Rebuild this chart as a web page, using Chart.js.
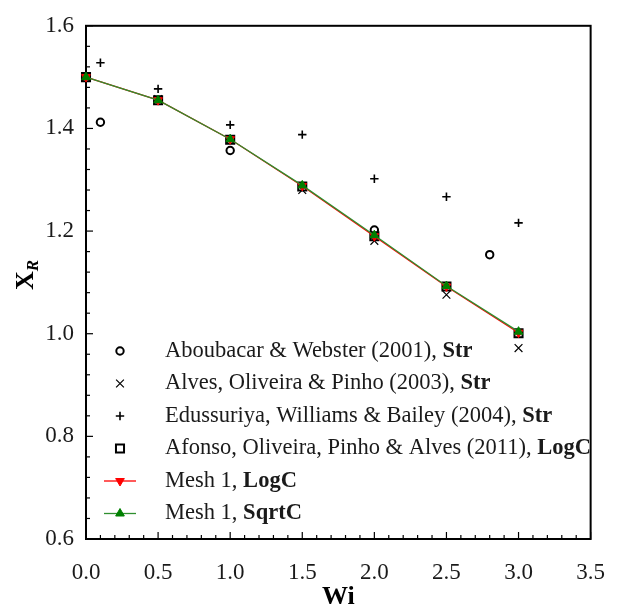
<!DOCTYPE html>
<html lang="en">
<head>
    <meta charset="UTF-8">
    <title>X_R vs Wi</title>
    <script src="https://cdn.jsdelivr.net/npm/chart.js"></script>
    <style>
        body { margin: 0; background: #fff; }
        #wrap { width: 625px; height: 612px; }
    </style>
</head>
<body>
    <div id="wrap"><canvas id="xrChart" width="625" height="612"></canvas></div>

    <script>
        // Wi values shared by the simulations / Afonso / Alves
        const wiMesh = [0.0, 0.5, 1.0, 1.5, 2.0, 2.5, 3.0];
        const meshLogC  = [1.500, 1.455, 1.379, 1.288, 1.190, 1.092, 1.002];
        const meshSqrtC = [1.500, 1.455, 1.379, 1.289, 1.192, 1.093, 1.004];
        const afonsoLogC = [1.500, 1.455, 1.378, 1.287, 1.190, 1.092, 1.001];
        const alvesStr   = [1.500, 1.457, 1.378, 1.280, 1.181, 1.076, 0.972];

        const edusWi  = [0.1, 0.5, 1.0, 1.5, 2.0, 2.5, 3.0];
        const edusStr = [1.528, 1.477, 1.407, 1.388, 1.302, 1.267, 1.216];

        const aboubWi  = [0.1, 1.0, 2.0, 2.8];
        const aboubStr = [1.412, 1.357, 1.202, 1.154];

        const xTicks = [0.0, 0.5, 1.0, 1.5, 2.0, 2.5, 3.0, 3.5];
        const yTicks = [0.6, 0.8, 1.0, 1.2, 1.4, 1.6];
        const xMinorStep = 0.1;
        const yMinorStep = 0.04;

        const FONT = 'Liberation Serif';

        const series = [
            { text: ['Aboubacar & Webster (2001), ', 'Str'], xs: aboubWi, ys: aboubStr,
              style: 'circle', r: 3.7, color: '#000', fill: 'rgba(0,0,0,0)', bw: 2, order: 5 },
            { text: ['Alves, Oliveira & Pinho (2003), ', 'Str'], xs: wiMesh, ys: alvesStr,
              style: 'crossRot', r: 5.5, color: '#000', fill: 'rgba(0,0,0,0)', bw: 1.2, order: 4 },
            { text: ['Edussuriya, Williams & Bailey (2004), ', 'Str'], xs: edusWi, ys: edusStr,
              style: 'cross', r: 4.2, color: '#000', fill: 'rgba(0,0,0,0)', bw: 1.6, order: 3 },
            { text: ['Afonso, Oliveira, Pinho & Alves (2011), ', 'LogC'], xs: wiMesh, ys: afonsoLogC,
              style: 'rect', r: 5.7, color: '#000', fill: 'rgba(0,0,0,0)', bw: 2, order: 2 },
            { text: ['Mesh 1, ', 'LogC'], xs: wiMesh, ys: meshLogC, line: '#ff0000',
              style: 'triangle', rot: 180, r: 5, color: '#ff0000', fill: '#ff0000', bw: 1, order: 1 },
            { text: ['Mesh 1, ', 'SqrtC'], xs: wiMesh, ys: meshSqrtC, line: '#2f8f2f',
              style: 'triangle', rot: 0, r: 5, color: '#008000', fill: '#008000', bw: 1, order: 0 }
        ];

        const datasets = series.map(s => ({
            label: s.text.join(''),
            data: s.xs.map((x, i) => ({ x: x, y: s.ys[i] })),
            showLine: !!s.line,
            borderColor: s.line || s.color,
            borderWidth: 1.3,
            pointStyle: s.style,
            pointRadius: s.r,
            pointRotation: s.rot || 0,
            pointBorderColor: s.color,
            pointBackgroundColor: s.fill,
            pointBorderWidth: s.bw,
            order: s.order,
            clip: false
        }));

        // frame + inward ticks, drawn under the markers
        const framePlugin = {
            id: 'frame',
            beforeDatasetsDraw(chart) {
                const { ctx, chartArea: a, scales: { x, y } } = chart;
                ctx.save();
                ctx.strokeStyle = '#000';
                ctx.lineWidth = 1.2;
                for (let v = x.min; v <= x.max + 1e-9; v += xMinorStep) {
                    const px = x.getPixelForValue(v);
                    const major = xTicks.some(t => Math.abs(t - v) < 1e-6);
                    ctx.beginPath();
                    ctx.moveTo(px, a.bottom);
                    ctx.lineTo(px, a.bottom - (major ? 7 : 4));
                    ctx.stroke();
                }
                for (let v = y.min; v <= y.max + 1e-9; v += yMinorStep) {
                    const py = y.getPixelForValue(v);
                    const major = yTicks.some(t => Math.abs(t - v) < 1e-6);
                    ctx.beginPath();
                    ctx.moveTo(a.left, py);
                    ctx.lineTo(a.left + (major ? 7 : 4), py);
                    ctx.stroke();
                }
                ctx.lineWidth = 2;
                ctx.strokeRect(a.left, a.top, a.right - a.left, a.bottom - a.top);
                ctx.restore();
            }
        };

        // legend with bold scheme names, axis titles
        const annotPlugin = {
            id: 'annot',
            afterDraw(chart) {
                const { ctx, chartArea: a } = chart;
                ctx.save();
                const rowY0 = 351, rowGap = 32.5, markX = 120, textX = 165;
                series.forEach((s, i) => {
                    const ds = chart.data.datasets[i];
                    const yy = rowY0 + i * rowGap;
                    if (s.line) {
                        ctx.strokeStyle = s.line;
                        ctx.lineWidth = 1.3;
                        ctx.beginPath();
                        ctx.moveTo(markX - 16, yy);
                        ctx.lineTo(markX + 16, yy);
                        ctx.stroke();
                    }
                    ctx.strokeStyle = ds.pointBorderColor;
                    ctx.fillStyle = ds.pointBackgroundColor;
                    ctx.lineWidth = ds.pointBorderWidth;
                    Chart.helpers.drawPoint(ctx, {
                        pointStyle: ds.pointStyle, radius: ds.pointRadius,
                        rotation: ds.pointRotation, borderWidth: ds.pointBorderWidth
                    }, markX, yy);

                    ctx.fillStyle = '#1a1a1a';
                    ctx.textBaseline = 'middle';
                    ctx.textAlign = 'left';
                    ctx.font = '22.5px "' + FONT + '"';
                    ctx.fillText(s.text[0], textX, yy);
                    const w = ctx.measureText(s.text[0]).width;
                    ctx.font = 'bold 22.5px "' + FONT + '"';
                    ctx.fillText(s.text[1], textX + w, yy);
                });

                // x title
                ctx.fillStyle = '#000';
                ctx.textAlign = 'center';
                ctx.textBaseline = 'middle';
                ctx.font = 'bold 26px "' + FONT + '"';
                ctx.fillText('Wi', (a.left + a.right) / 2, 597);

                // y title X_R
                ctx.translate(24, 275);
                ctx.rotate(-Math.PI / 2);
                ctx.textAlign = 'left';
                ctx.textBaseline = 'alphabetic';
                ctx.font = 'bold 26px "' + FONT + '"';
                const wx = ctx.measureText('X').width;
                ctx.font = 'italic bold 17px "' + FONT + '"';
                const wr = ctx.measureText('R').width;
                const x0 = -(wx + wr) / 2;
                ctx.font = 'bold 26px "' + FONT + '"';
                ctx.fillText('X', x0, 9);
                ctx.font = 'italic bold 17px "' + FONT + '"';
                ctx.fillText('R', x0 + wx, 14);
                ctx.restore();
            }
        };

        const ctx = document.getElementById('xrChart').getContext('2d');
        const chart = new Chart(ctx, {
            type: 'scatter',
            data: { datasets: datasets },
            options: {
                responsive: false,
                animation: false,
                layout: { padding: { top: 17, right: 17, left: 0, bottom: 0 } },
                plugins: {
                    legend: { display: false },
                    tooltip: { enabled: false }
                },
                scales: {
                    x: {
                        type: 'linear',
                        min: 0, max: 3.5,
                        afterBuildTicks: s => { s.ticks = xTicks.map(v => ({ value: v })); },
                        afterFit: s => { s.height = 73; },
                        grid: { display: false, drawTicks: false },
                        border: { display: false },
                        ticks: {
                            callback: v => Number(v).toFixed(1),
                            font: { family: FONT, size: 23 },
                            color: '#1a1a1a',
                            padding: 20,
                            maxRotation: 0,
                            autoSkip: false
                        }
                    },
                    y: {
                        type: 'linear',
                        min: 0.6, max: 1.6,
                        afterBuildTicks: s => { s.ticks = yTicks.map(v => ({ value: v })); },
                        afterFit: s => { s.width = 86; },
                        grid: { display: false, drawTicks: false },
                        border: { display: false },
                        ticks: {
                            callback: v => Number(v).toFixed(1),
                            font: { family: FONT, size: 23 },
                            color: '#1a1a1a',
                            padding: 12,
                            autoSkip: false
                        }
                    }
                }
            },
            plugins: [framePlugin, annotPlugin]
        });
    </script>
</body>
</html>
